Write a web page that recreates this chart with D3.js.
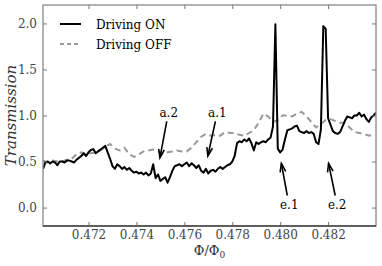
<!DOCTYPE html>
<html>
<head>
<meta charset="utf-8">
<script src="https://cdn.jsdelivr.net/npm/d3@7"></script>
<style>
    body { margin: 0; background: #fff; }
    text { font-family: 'DejaVu Serif', serif; }
</style>
</head>
<body>
<div id="container"></div>
<script>
// flux sweep grid
var phiStart = 0.4701
var stepOn = 0.0001
var stepOff = 0.0002

// transmission with driving on (one value per 0.0001 step)
var drivingOn = [
    0.42, 0.49, 0.50, 0.48, 0.50, 0.49, 0.46, 0.50, 0.50, 0.49,
    0.51, 0.51, 0.50, 0.49, 0.52, 0.54, 0.56, 0.59, 0.56, 0.60,
    0.625, 0.635, 0.59, 0.61, 0.63, 0.65, 0.67, 0.60, 0.53, 0.45,
    0.42, 0.47, 0.45, 0.42, 0.44, 0.41, 0.43, 0.40, 0.38, 0.39,
    0.37, 0.38, 0.36, 0.38, 0.35, 0.37, 0.47, 0.32, 0.36, 0.29,
    0.31, 0.33, 0.27, 0.33, 0.40, 0.45, 0.46, 0.47, 0.45, 0.47,
    0.49, 0.45, 0.48, 0.46, 0.43, 0.46, 0.40, 0.38, 0.42, 0.37,
    0.40, 0.41, 0.39, 0.42, 0.44, 0.42, 0.44, 0.46, 0.47, 0.50,
    0.56, 0.70, 0.72, 0.71, 0.74, 0.72, 0.75, 0.70, 0.62, 0.71,
    0.69, 0.71, 0.72, 0.71, 0.74, 0.76, 0.88, 1.99, 0.64, 0.60,
    0.63, 0.74, 0.84, 0.85, 0.86, 0.88, 0.89, 0.83, 0.82, 0.81,
    0.83, 0.81, 0.82, 0.80, 0.71, 0.69, 0.85, 1.97, 1.94, 0.97,
    0.90, 0.83, 0.81, 0.80, 0.82, 0.88, 0.94, 0.99, 0.98, 0.97,
    1.00, 1.00, 1.03, 0.99, 1.01, 0.96, 0.93, 0.98, 1.00, 1.03
]

// transmission with driving off (one value per 0.0002 step)
var drivingOff = [
    0.51, 0.49, 0.51, 0.50, 0.50, 0.52, 0.53, 0.58, 0.60, 0.58,
    0.59, 0.60, 0.62, 0.66, 0.69, 0.64, 0.62, 0.65, 0.58, 0.55,
    0.58, 0.61, 0.62, 0.63, 0.61, 0.58, 0.60, 0.61, 0.62, 0.61,
    0.61, 0.65, 0.71, 0.77, 0.80, 0.78, 0.79, 0.78, 0.82, 0.81,
    0.81, 0.79, 0.78, 0.81, 0.84, 0.92, 1.02, 0.99, 0.93, 0.95,
    1.00, 1.00, 0.99, 1.02, 1.04, 0.99, 0.93, 0.87, 0.91, 0.95,
    0.96, 0.94, 0.92, 0.92, 0.87, 0.82, 0.81, 0.80, 0.78, 0.79
]

var xTicks = [0.472, 0.474, 0.476, 0.478, 0.480, 0.482]
var yTicks = [0.0, 0.5, 1.0, 1.5, 2.0]
var seriesNames = ['Driving ON', 'Driving OFF']

// annotations: label, arrow tip (phi, T), text position (phi, T)
var notes = [
    { label: 'a.2', tip: [0.47498, 0.54], text: [0.47535, 0.98] },
    { label: 'a.1', tip: [0.47698, 0.56], text: [0.47738, 0.98] },
    { label: 'e.1', tip: [0.48005, 0.48], text: [0.48038, -0.01] },
    { label: 'e.2', tip: [0.48202, 0.48], text: [0.48238, -0.01] }
]

var margin = { top: 5, right: 6, bottom: 40, left: 43 },
    width = 382 - margin.left - margin.right,
    height = 266 - margin.top - margin.bottom

var svg = d3
    .select('#container')
    .append('svg')
    .attr('width', 382)
    .attr('height', 266)
    .append('g')
    .attr('transform', 'translate(' + margin.left + ',' + margin.top + ')')

var x = d3.scaleLinear().domain([0.4701, 0.4840]).range([0, width])
var y = d3.scaleLinear().domain([-0.2, 2.2]).range([height, 0])

svg.append('clipPath')
    .attr('id', 'plotClip')
    .append('rect')
    .attr('width', width)
    .attr('height', height)

var onPoints = drivingOn.map(function(d, i) {
    return [phiStart + i * stepOn, d]
})
var offPoints = drivingOff.map(function(d, i) {
    return [phiStart + i * stepOff, d]
})

var line = d3
    .line()
    .x(function(d) { return x(d[0]) })
    .y(function(d) { return y(d[1]) })

var plot = svg.append('g').attr('clip-path', 'url(#plotClip)')

plot.append('path')
    .datum(offPoints)
    .attr('d', line)
    .attr('fill', 'none')
    .attr('stroke', '#999')
    .attr('stroke-width', 2)
    .attr('stroke-dasharray', '6,4')

plot.append('path')
    .datum(onPoints)
    .attr('d', line)
    .attr('fill', 'none')
    .attr('stroke', '#000')
    .attr('stroke-width', 2)
    .attr('stroke-linejoin', 'round')

// axes with inward ticks on all four sides
function styleAxis(g) {
    g.select('.domain').remove()
    g.selectAll('.tick line').attr('stroke', '#777')
    g.selectAll('.tick text')
        .attr('fill', '#444')
        .style('font-size', '12px')
        .style('font-family', 'DejaVu Serif')
}

svg.append('g')
    .attr('transform', 'translate(0,' + height + ')')
    .call(d3.axisBottom(x).tickValues(xTicks).tickFormat(d3.format('.3f')).tickSize(-4).tickPadding(4))
    .call(styleAxis)

svg.append('g')
    .call(d3.axisTop(x).tickValues(xTicks).tickFormat('').tickSize(-4))
    .call(styleAxis)

svg.append('g')
    .call(d3.axisLeft(y).tickValues(yTicks).tickFormat(d3.format('.1f')).tickSize(-4).tickPadding(6))
    .call(styleAxis)

svg.append('g')
    .attr('transform', 'translate(' + width + ',0)')
    .call(d3.axisRight(y).tickValues(yTicks).tickFormat('').tickSize(-4))
    .call(styleAxis)

// frame
svg.append('rect')
    .attr('width', width)
    .attr('height', height)
    .attr('fill', 'none')
    .attr('stroke', '#888')
    .attr('stroke-width', 1.3)

svg.append('line')
    .attr('x1', 0)
    .attr('x2', width)
    .attr('y1', height)
    .attr('y2', height)
    .attr('stroke', '#444')
    .attr('stroke-width', 1.3)

// axis labels
svg.append('text')
    .attr('transform', 'translate(' + (-27) + ',' + height / 2 + ') rotate(-90)')
    .attr('text-anchor', 'middle')
    .style('font-size', '15px')
    .style('font-style', 'italic')
    .attr('fill', '#333')
    .text('Transmission')

var xLabel = svg.append('text')
    .attr('x', width / 2)
    .attr('y', height + 29)
    .attr('text-anchor', 'middle')
    .style('font-size', '13px')
    .attr('fill', '#333')
xLabel.append('tspan').text('Φ/Φ')
xLabel.append('tspan').attr('dy', 3).style('font-size', '9px').text('0')

// legend
var legend = svg.append('g').attr('transform', 'translate(17,19)')
seriesNames.forEach(function(name, i) {
    var row = legend.append('g').attr('transform', 'translate(0,' + i * 20 + ')')
    row.append('line')
        .attr('x1', 0)
        .attr('x2', 21)
        .attr('stroke', i == 0 ? '#000' : '#999')
        .attr('stroke-width', 2)
        .attr('stroke-dasharray', i == 0 ? null : '4,3')
    row.append('text')
        .attr('x', 36)
        .attr('y', 4.5)
        .style('font-size', '12px')
        .attr('fill', '#000')
        .text(name)
})

// annotation arrows
notes.forEach(function(n) {
    var tx = x(n.text[0]), ty = y(n.text[1])
    var px = x(n.tip[0]), py = y(n.tip[1])
    var up = py < ty
    // arrow starts just off the text
    var sx = tx - 2, sy = up ? ty - 13 : ty + 4
    var ang = Math.atan2(py - sy, px - sx)
    var head = 9, spread = 0.32
    svg.append('line')
        .attr('x1', sx)
        .attr('y1', sy)
        .attr('x2', px)
        .attr('y2', py)
        .attr('stroke', '#000')
        .attr('stroke-width', 1.6)
    svg.append('path')
        .attr('d',
            'M' + (px - head * Math.cos(ang - spread)) + ',' + (py - head * Math.sin(ang - spread)) +
            'L' + px + ',' + py +
            'L' + (px - head * Math.cos(ang + spread)) + ',' + (py - head * Math.sin(ang + spread)))
        .attr('fill', 'none')
        .attr('stroke', '#000')
        .attr('stroke-width', 1.6)
    svg.append('text')
        .attr('x', tx)
        .attr('y', ty)
        .attr('text-anchor', 'middle')
        .style('font-size', '12px')
        .attr('fill', '#000')
        .text(n.label)
})
</script>
</body>
</html>
